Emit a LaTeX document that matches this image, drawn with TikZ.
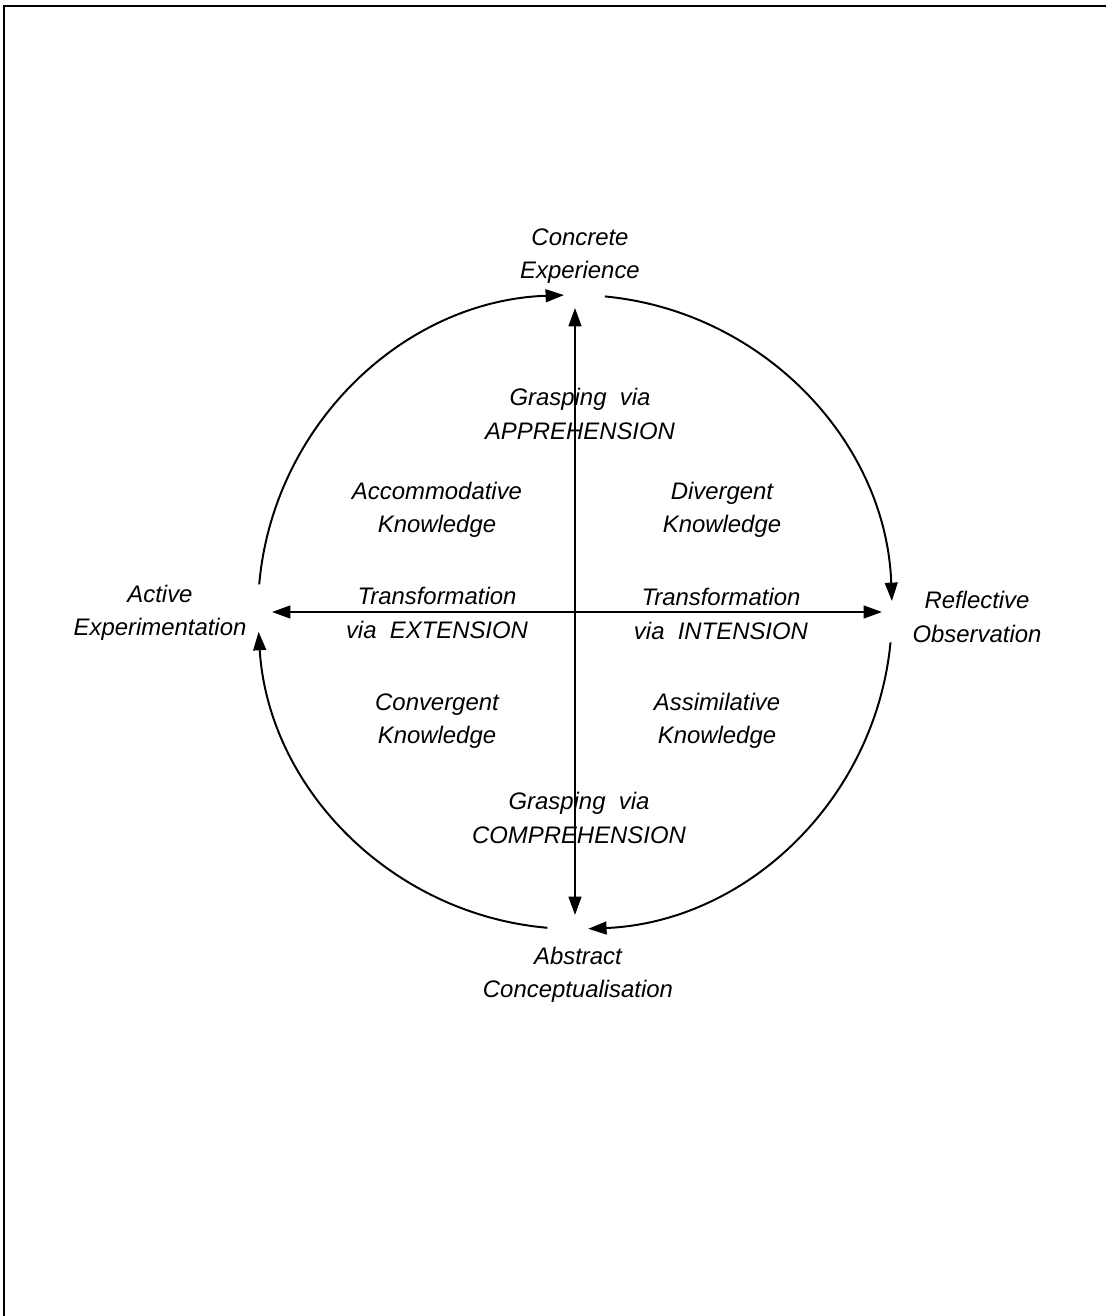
\documentclass[tikz,border=0pt]{standalone}
\usepackage{fontspec}
\setmainfont{Liberation Sans}
\usepackage{tikz}
\usetikzlibrary{arrows.meta,positioning}

\tikzset{
  lbl/.style={align=center, inner sep=0pt, font=\fontsize{17}{23.6}\selectfont\itshape},
  arr/.style={line width=1.4pt, -{Triangle[length=4.6mm,width=3.2mm]}},
  dbl/.style={line width=1.5pt, {Triangle[length=4.6mm,width=3.2mm]}-{Triangle[length=4.6mm,width=3.2mm]}}
}

\begin{document}
\begin{tikzpicture}[x=0.025cm, y=0.025cm]

\useasboundingbox (-575,-704) rectangle (531,612);
\draw[line width=1pt] (-571,-704) -- (-571,606) -- (531,606);

\coordinate (O) at (0,0);

% the four poles
\node[lbl] (ce) at (5,356) {Concrete\\Experience};
\node[lbl] (ro) at (402,-5) {Reflective\\Observation};
\node[lbl] (ac) at (3,-363) {Abstract\\Conceptualisation};
\node[lbl] (ae) at (-415,-1) {Active\\Experimentation};

% the cycle
\coordinate (c1) at (175:317); \coordinate (c2) at (92:317);
\coordinate (c3) at (84.6:317); \coordinate (c4) at (2:317);
\coordinate (c5) at (-5.5:317); \coordinate (c6) at (-87.6:317);
\coordinate (c7) at (-95:317); \coordinate (c8) at (-176.4:317);
\draw[arr] (c1) arc[start angle=175, end angle=92, radius=7.925cm];
\draw[arr] (c3) arc[start angle=84.6, end angle=2, radius=7.925cm];
\draw[arr] (c5) arc[start angle=-5.5, end angle=-87.6, radius=7.925cm];
\draw[arr] (c7) arc[start angle=-95, end angle=-176.4, radius=7.925cm];

% the two axes
\coordinate (vtop) at (0,304); \coordinate (vbot) at (0,-303);
\coordinate (hleft) at (-303,0); \coordinate (hright) at (307,0);
\draw[dbl] (vbot) -- (vtop);
\draw[dbl] (hleft) -- (hright);

% labels inside
\node[lbl] (appr) at (5,198) {Grasping~~via\\APPREHENSION};
\node[lbl] (comp) at (4,-206) {Grasping~~via\\COMPREHENSION};
\node[lbl] (ext) at (-138,-1) {Transformation\\via~~EXTENSION};
\node[lbl] (int) at (146,-2) {Transformation\\via~~INTENSION};

\node[lbl] (accom) at (-138,102) {Accommodative\\Knowledge};
\node[lbl] (diverg) at (147,102) {Divergent\\Knowledge};
\node[lbl] (converg) at (-138,-109) {Convergent\\Knowledge};
\node[lbl] (assim) at (142,-109) {Assimilative\\Knowledge};

\end{tikzpicture}
\end{document}
